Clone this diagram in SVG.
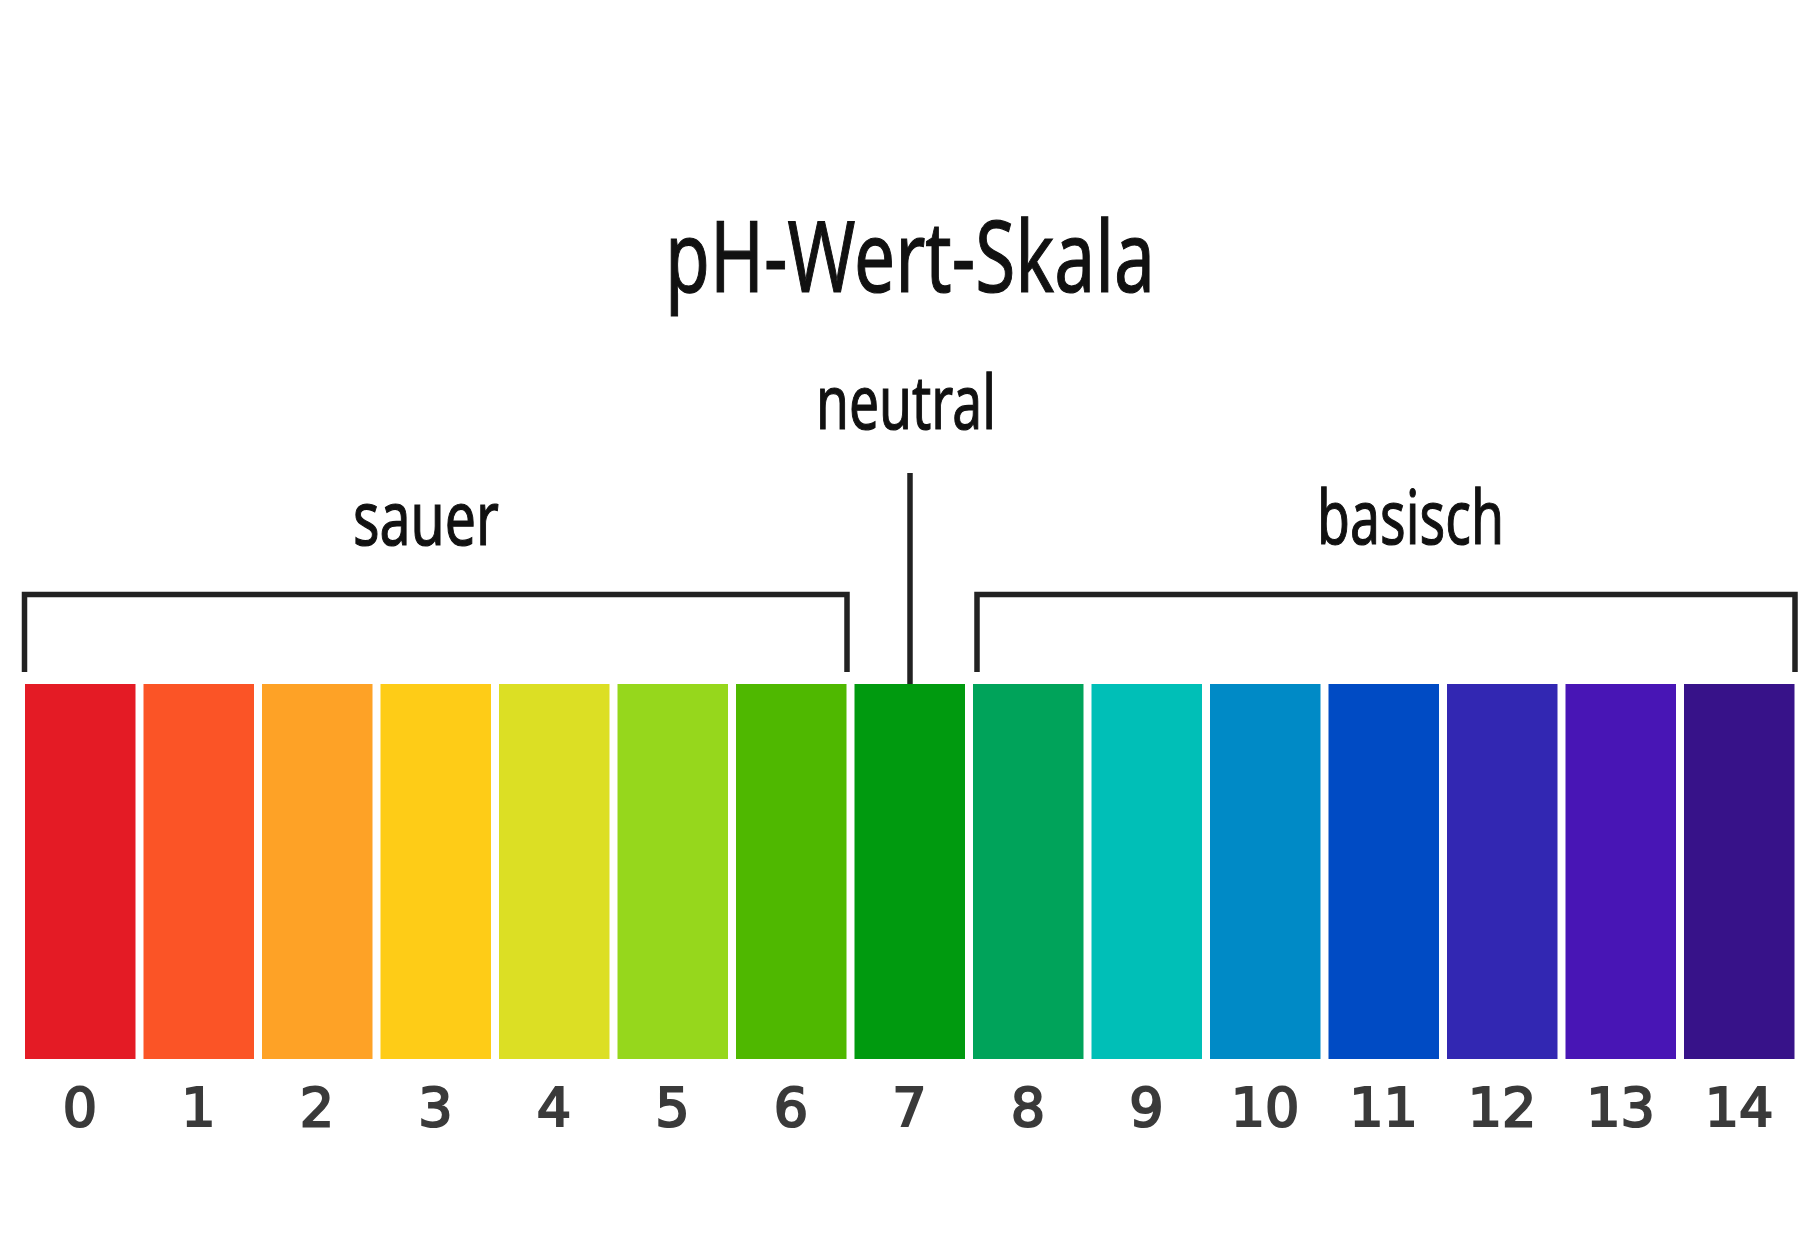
<svg xmlns="http://www.w3.org/2000/svg" width="1820" height="1240" viewBox="0 0 1820 1240">
<style>
.lbl{font-family:"Noto Sans","Open Sans",sans-serif;fill:#111;stroke:#111;stroke-width:1.2;text-anchor:middle}
.num{font-family:"DejaVu Sans","Noto Sans",sans-serif;font-weight:400;font-size:54px;fill:#3a3a3a;stroke:#3a3a3a;stroke-width:2.2;text-anchor:middle}
.ln{fill:none;stroke:#222;stroke-width:5.5;stroke-linecap:butt;stroke-linejoin:miter}
</style>
<rect width="1820" height="1240" fill="#fff"/>
<g id="title"><text class="lbl" x="910" y="292" font-size="98" stroke-width="1.8" textLength="490" lengthAdjust="spacingAndGlyphs">pH-Wert-Skala</text></g>
<g id="label-neutral"><text class="lbl" x="906" y="429" font-size="74" textLength="180" lengthAdjust="spacingAndGlyphs">neutral</text></g>
<g id="label-sauer"><text class="lbl" x="426" y="545" font-size="74" textLength="146" lengthAdjust="spacingAndGlyphs">sauer</text></g>
<g id="label-basisch"><text class="lbl" x="1410.5" y="544" font-size="74" textLength="187" lengthAdjust="spacingAndGlyphs">basisch</text></g>
<g id="connectors">
<path class="ln" d="M24.5 672 V594.5 H847 V672"/>
<path class="ln" d="M977 672 V594.5 H1795 V672"/>
<path class="ln" d="M910 473 V684"/>
</g>
<g id="bars">
<g id="ph0"><rect x="25" y="684" width="110.5" height="375" fill="#E41B25"/><text class="num" x="80" y="1126">0</text></g>
<g id="ph1"><rect x="143.5" y="684" width="110.5" height="375" fill="#FB5426"/><text class="num" x="198.5" y="1126">1</text></g>
<g id="ph2"><rect x="262" y="684" width="110.5" height="375" fill="#FEA226"/><text class="num" x="317" y="1126">2</text></g>
<g id="ph3"><rect x="380.5" y="684" width="110.5" height="375" fill="#FECC17"/><text class="num" x="435.5" y="1126">3</text></g>
<g id="ph4"><rect x="499" y="684" width="110.5" height="375" fill="#DCDF24"/><text class="num" x="554" y="1126">4</text></g>
<g id="ph5"><rect x="617.5" y="684" width="110.5" height="375" fill="#96D71C"/><text class="num" x="672.5" y="1126">5</text></g>
<g id="ph6"><rect x="736" y="684" width="110.5" height="375" fill="#4FB800"/><text class="num" x="791" y="1126">6</text></g>
<g id="ph7"><rect x="854.5" y="684" width="110.5" height="375" fill="#009A0F"/><text class="num" x="909.5" y="1126">7</text></g>
<g id="ph8"><rect x="973" y="684" width="110.5" height="375" fill="#00A35A"/><text class="num" x="1028" y="1126">8</text></g>
<g id="ph9"><rect x="1091.5" y="684" width="110.5" height="375" fill="#00BFB7"/><text class="num" x="1146.5" y="1126">9</text></g>
<g id="ph10"><rect x="1210" y="684" width="110.5" height="375" fill="#008AC6"/><text class="num" x="1265" y="1126">10</text></g>
<g id="ph11"><rect x="1328.5" y="684" width="110.5" height="375" fill="#004BC4"/><text class="num" x="1383.5" y="1126">11</text></g>
<g id="ph12"><rect x="1447" y="684" width="110.5" height="375" fill="#3227B2"/><text class="num" x="1502" y="1126">12</text></g>
<g id="ph13"><rect x="1565.5" y="684" width="110.5" height="375" fill="#4815B5"/><text class="num" x="1620.5" y="1126">13</text></g>
<g id="ph14"><rect x="1684" y="684" width="110.5" height="375" fill="#371289"/><text class="num" x="1739" y="1126">14</text></g>
</g>
</svg>
